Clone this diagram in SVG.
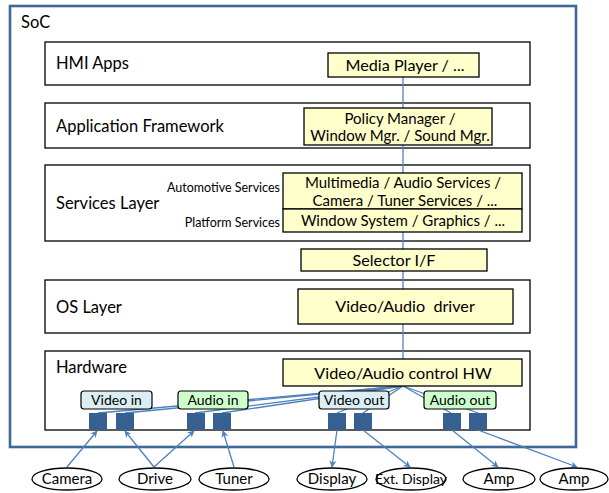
<svg xmlns="http://www.w3.org/2000/svg" width="609" height="493" viewBox="0 0 609 493">
<defs>
<style>
text{font-family:Lato,"Liberation Sans",sans-serif;fill:#000}
.layer{fill:#fff;stroke:#000;stroke-width:1.3}
.ybox{fill:#ffffcc;stroke:#000;stroke-width:1.3}
.lbl{font-size:16.5px}
.yt{font-size:15px;text-anchor:middle}
.yb{font-size:16.2px;text-anchor:middle}
.sm{font-size:12.5px;text-anchor:end}
.vbox{fill:#dbeef4;stroke:#000;stroke-width:1.2}
.abox{fill:#ccffcc;stroke:#000;stroke-width:1.2}
.bt{font-size:14px;text-anchor:middle}
.et{font-size:15px;text-anchor:middle}
.sq{fill:#376092}
.ell{fill:#fff;stroke:#000;stroke-width:1.3}
.conn{stroke:#4f81bd;stroke-width:1.3;fill:none}
.arr{stroke:#4f81bd;stroke-width:1.3;fill:none;marker-end:url(#ah)}
</style>
<marker id="ah" viewBox="0 0 10 10" refX="9" refY="5" markerWidth="7" markerHeight="7" orient="auto" markerUnits="userSpaceOnUse">
<path d="M0,0 L10,5 L0,10 L3,5 Z" fill="#4f81bd"/>
</marker>
</defs>

<g id="soc">
<rect x="10" y="6" width="566" height="441" fill="#fff" stroke="#3f6797" stroke-width="2.6"/>
<text x="21" y="28" class="lbl">SoC</text>
</g>

<g id="layer-hmi">
<rect class="layer" x="45" y="42" width="485" height="43"/>
<text x="56" y="69" class="lbl">HMI Apps</text>
</g>
<g id="layer-appfw">
<rect class="layer" x="45" y="103" width="485" height="45"/>
<text x="56" y="132" class="lbl">Application Framework</text>
</g>
<g id="layer-services">
<rect class="layer" x="45" y="165" width="485" height="76"/>
<text x="56" y="209" class="lbl">Services Layer</text>
<text x="280" y="192" class="sm">Automotive Services</text>
<text x="280" y="227" class="sm">Platform Services</text>
</g>
<g id="layer-os">
<rect class="layer" x="45" y="280" width="485" height="53"/>
<text x="56" y="313" class="lbl">OS Layer</text>
</g>
<g id="layer-hw">
<rect class="layer" x="45" y="351" width="485" height="79"/>
<text x="56" y="373" class="lbl">Hardware</text>
</g>

<g id="connectors">
<line class="conn" x1="403" y1="77" x2="403" y2="359"/>
<line class="conn" x1="403" y1="386" x2="98" y2="413"/>
<line class="conn" x1="403" y1="386" x2="125" y2="413"/>
<line class="conn" x1="403" y1="386" x2="195" y2="413"/>
<line class="conn" x1="403" y1="386" x2="222" y2="413"/>
<line class="conn" x1="403" y1="386" x2="337" y2="413"/>
<line class="conn" x1="403" y1="386" x2="363" y2="413"/>
<line class="conn" x1="403" y1="386" x2="451" y2="413"/>
<line class="conn" x1="403" y1="386" x2="478" y2="413"/>
<line class="arr" x1="67" y1="467" x2="97" y2="431"/>
<line class="arr" x1="154" y1="467" x2="125" y2="431"/>
<line class="arr" x1="154" y1="467" x2="194" y2="431"/>
<line class="arr" x1="234" y1="467" x2="223" y2="431"/>
<line class="arr" x1="337" y1="430" x2="332" y2="467"/>
<line class="arr" x1="363" y1="430" x2="410" y2="467"/>
<line class="arr" x1="452" y1="430" x2="498" y2="467"/>
<line class="arr" x1="478" y1="430" x2="577" y2="467"/>
</g>

<g id="media-player">
<rect class="ybox" x="328" y="53" width="151" height="24"/>
<text x="405" y="71" class="yb">Media Player / ...</text>
</g>
<g id="policy-manager">
<rect class="ybox" x="304" y="108" width="188" height="37"/>
<text x="400" y="124" class="yt">Policy Manager /</text>
<text x="400" y="141" class="yt">Window Mgr. / Sound Mgr.</text>
</g>
<g id="automotive-services">
<rect class="ybox" x="283" y="173" width="239" height="36"/>
<text x="403" y="188" class="yt">Multimedia / Audio Services /</text>
<text x="405" y="206" class="yt">Camera / Tuner Services / ...</text>
</g>
<g id="platform-services">
<rect class="ybox" x="283" y="209" width="239" height="23"/>
<text x="403" y="226" class="yt">Window System / Graphics / ...</text>
</g>
<g id="selector-if">
<rect class="ybox" x="301" y="249" width="186" height="22"/>
<text x="394" y="266" class="yb">Selector I/F</text>
</g>
<g id="va-driver">
<rect class="ybox" x="298" y="289" width="215" height="35"/>
<text x="405" y="312" class="yb" xml:space="preserve">Video/Audio  driver</text>
</g>
<g id="va-control-hw">
<rect class="ybox" x="283" y="359" width="239" height="27"/>
<text x="403" y="379" class="yb">Video/Audio control HW</text>
</g>

<g id="video-in">
<rect class="vbox" x="81" y="391" width="71" height="18" rx="3"/>
<text x="116.5" y="405" class="bt">Video in</text>
</g>
<g id="audio-in">
<rect class="abox" x="178" y="391" width="70" height="18" rx="3"/>
<text x="213" y="405" class="bt">Audio in</text>
</g>
<g id="video-out">
<rect class="vbox" x="319" y="391" width="70" height="18" rx="3"/>
<text x="354" y="405" class="bt">Video out</text>
</g>
<g id="audio-out">
<rect class="abox" x="424" y="391" width="72" height="18" rx="3"/>
<text x="460" y="405" class="bt">Audio out</text>
</g>

<g id="ports">
<rect class="sq" x="89" y="413" width="18" height="17"/>
<rect class="sq" x="116" y="413" width="18" height="17"/>
<rect class="sq" x="187" y="413" width="18" height="17"/>
<rect class="sq" x="213" y="413" width="18" height="17"/>
<rect class="sq" x="328" y="413" width="18" height="17"/>
<rect class="sq" x="354" y="413" width="18" height="17"/>
<rect class="sq" x="443" y="413" width="18" height="17"/>
<rect class="sq" x="469" y="413" width="18" height="17"/>
</g>

<g id="camera"><ellipse class="ell" cx="67" cy="479" rx="35" ry="11"/><text x="67" y="484" class="et">Camera</text></g>
<g id="drive"><ellipse class="ell" cx="155" cy="479" rx="36" ry="11"/><text x="155" y="484" class="et">Drive</text></g>
<g id="tuner"><ellipse class="ell" cx="234" cy="479" rx="35" ry="11"/><text x="234" y="484" class="et">Tuner</text></g>
<g id="display"><ellipse class="ell" cx="332" cy="479" rx="35" ry="11"/><text x="332" y="484" class="et">Display</text></g>
<g id="ext-display"><ellipse class="ell" cx="411" cy="479" rx="35" ry="11"/><text x="411" y="484" class="bt">Ext. Display</text></g>
<g id="amp1"><ellipse class="ell" cx="499" cy="479" rx="36" ry="11"/><text x="499" y="484" class="et">Amp</text></g>
<g id="amp2"><ellipse class="ell" cx="574" cy="479" rx="34" ry="11"/><text x="574" y="484" class="et">Amp</text></g>
</svg>
